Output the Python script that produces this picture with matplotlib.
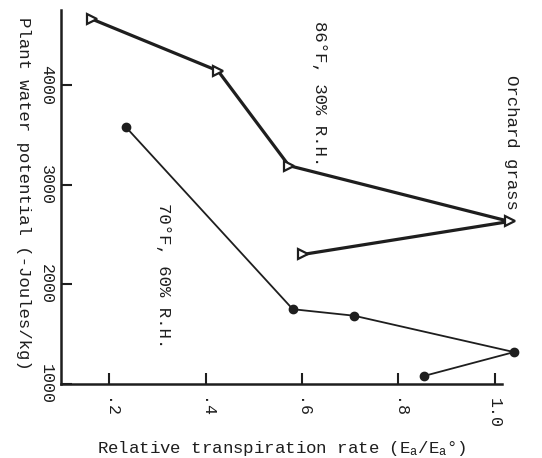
import matplotlib.pyplot as plt

# 86 F, 30 % R.H. series (open triangles)
rate_86 = [0.164, 0.426, 0.573, 1.031, 0.603]
psi_86 = [4660, 4140, 3190, 2630, 2300]

# 70 F, 60 % R.H. series (filled circles)
rate_70 = [0.235, 0.581, 0.708, 1.040, 0.853]
psi_70 = [3575, 1750, 1685, 1320, 1080]

x_ticks = [0.2, 0.4, 0.6, 0.8, 1.0]
x_ticklabels = [".2", ".4", ".6", ".8", "1.0"]
y_ticks = [1000, 2000, 3000, 4000]

plt.rcParams["font.family"] = "Liberation Mono"
plt.rcParams["mathtext.fontset"] = "custom"
plt.rcParams["mathtext.rm"] = "Liberation Mono"
plt.rcParams["mathtext.it"] = "Liberation Mono"

ink = "#1e1e1e"
fig = plt.figure(figsize=(5.42, 4.58), dpi=100)
ax = fig.add_axes([0.1125, 0.1616, 0.8135, 0.8164])

ax.plot(rate_86, psi_86, color=ink, lw=2.3, marker=">", ms=6.5, mfc="white",
        mec=ink, mew=1.6, clip_on=False)
ax.plot(rate_70, psi_70, color=ink, lw=1.3, marker="o", ms=6, mfc=ink,
        mec=ink, clip_on=False)

ax.set_xlim(0.1, 1.015)
ax.set_ylim(1000, 4750)
ax.set_xticks(x_ticks)
ax.set_xticklabels(x_ticklabels, rotation=-90, fontsize=12)
ax.set_yticks(y_ticks)
ax.set_yticklabels([str(v) for v in y_ticks], rotation=-90, va="center", fontsize=12)
ax.tick_params(axis="both", direction="in", length=8, width=1.5, colors=ink)
ax.tick_params(axis="x", pad=10)
ax.tick_params(axis="y", pad=5)

for side in ["top", "right"]:
    ax.spines[side].set_visible(False)
for side in ["left", "bottom"]:
    ax.spines[side].set_linewidth(1.8)
    ax.spines[side].set_color(ink)

ax.set_ylabel("Plant water potential (-Joules/kg)", rotation=-90, fontsize=12.5,
              color=ink, va="center")
ax.yaxis.set_label_coords(-0.085, 0.51)
ax.set_xlabel(r"Relative transpiration rate (E$_\mathrm{a}$/E$_\mathrm{a}$°)",
              fontsize=12.5, color=ink, labelpad=8)

ax.text(0.637, 3910, "86°F, 30% R.H.", rotation=-90, ha="center", va="center",
        fontsize=12.5, color=ink)
ax.text(0.312, 2090, "70°F, 60% R.H.", rotation=-90, ha="center", va="center",
        fontsize=12.5, color=ink)
ax.text(1.035, 3420, "Orchard grass", rotation=-90, ha="center", va="center",
        fontsize=12.5, color=ink)

fig.savefig("out.png", dpi=100)
